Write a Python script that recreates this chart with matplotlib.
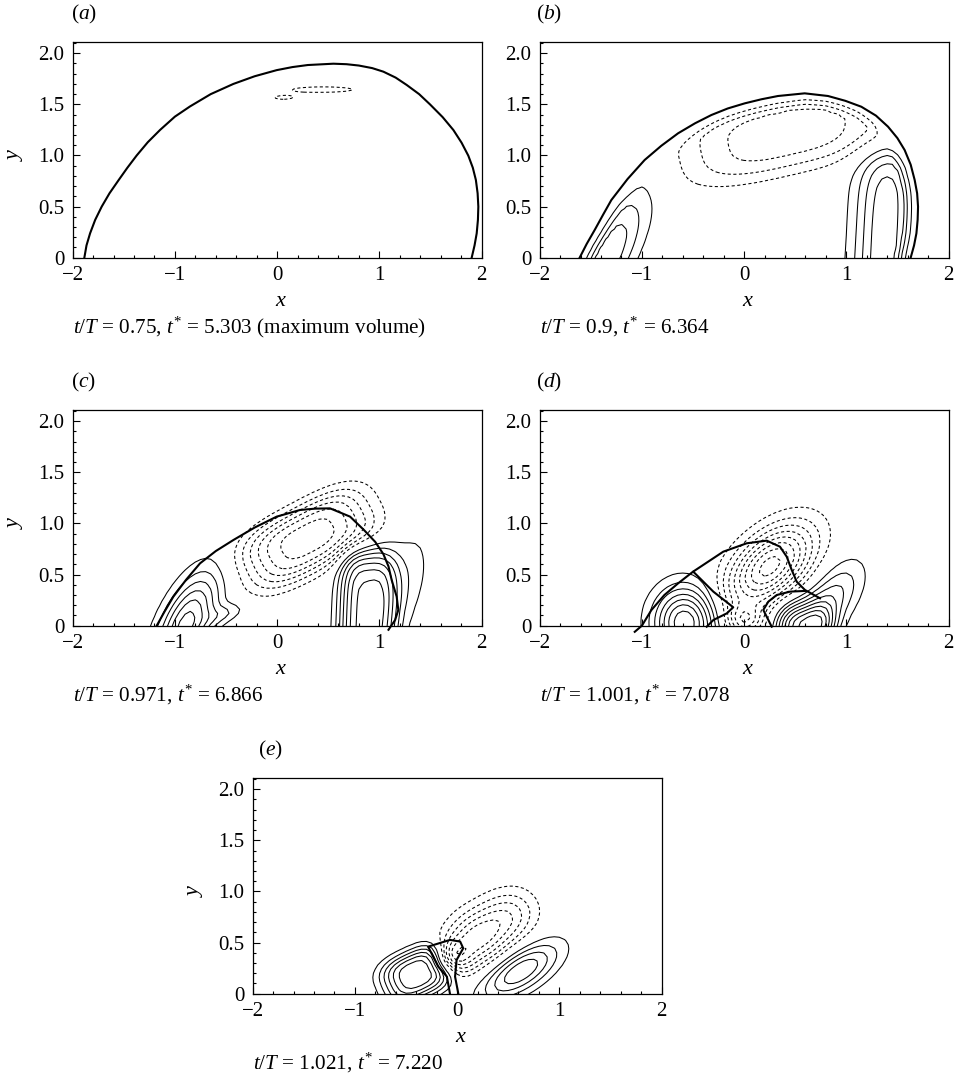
import numpy as np
import matplotlib
matplotlib.use("Agg")
import matplotlib.pyplot as plt
from matplotlib.path import Path
from matplotlib.ticker import MultipleLocator, FixedLocator, FixedFormatter

plt.rcParams['font.family'] = ['Liberation Serif', 'DejaVu Serif']
plt.rcParams['mathtext.fontset'] = 'custom'
plt.rcParams['mathtext.rm'] = 'Liberation Serif'
plt.rcParams['mathtext.it'] = 'Liberation Serif:italic'

# ---- data ----
panel_tags = ['a', 'b', 'c', 'd', 'e']
captions = [r'$t/T$ = 0.75, $t^{*}$ = 5.303 (maximum volume)',
            r'$t/T$ = 0.9, $t^{*}$ = 6.364',
            r'$t/T$ = 0.971, $t^{*}$ = 6.866',
            r'$t/T$ = 1.001, $t^{*}$ = 7.078',
            r'$t/T$ = 1.021, $t^{*}$ = 7.220']

# bubble surface (thick line), one or more polylines per panel
outline_a = [([-1.886, -1.865, -1.83, -1.78, -1.716, -1.64, -1.55, -1.465, -1.374, -1.265, -1.145,
               -1.0, -0.852, -0.65, -0.428, -0.22, -0.004, 0.15, 0.30, 0.551, 0.68, 0.80, 0.93,
               1.04, 1.16, 1.268, 1.39, 1.496, 1.62, 1.725, 1.805, 1.871, 1.915, 1.945, 1.962,
               1.969, 1.965, 1.953, 1.932, 1.904],
              [0.0, 0.12, 0.238, 0.37, 0.5, 0.63, 0.76, 0.88, 1.0, 1.13, 1.25,
               1.38, 1.48, 1.6, 1.70, 1.775, 1.835, 1.865, 1.885, 1.898, 1.893, 1.88, 1.855,
               1.82, 1.762, 1.69, 1.6, 1.5, 1.375, 1.249, 1.125, 0.998, 0.88, 0.76, 0.63,
               0.499, 0.37, 0.238, 0.12, 0.0])]
outline_b = [([-1.609, -1.54, -1.462, -1.38, -1.299, -1.14, -0.973, -0.81, -0.646, -0.48, -0.32,
               -0.16, 0.006, 0.17, 0.332, 0.593, 0.821, 0.99, 1.147, 1.29, 1.408, 1.50, 1.571,
               1.63, 1.669, 1.693, 1.702, 1.698, 1.686, 1.663, 1.63],
              [0.0, 0.135, 0.271, 0.42, 0.564, 0.77, 0.956, 1.095, 1.217, 1.315, 1.396,
               1.46, 1.51, 1.55, 1.582, 1.608, 1.582, 1.535, 1.477, 1.39, 1.282, 1.17, 1.053,
               0.91, 0.76, 0.63, 0.499, 0.37, 0.238, 0.12, 0.0])]
outline_c = [([-1.178, -1.10, -1.015, -0.89, -0.754, -0.6, -0.428, -0.22, -0.004, 0.224, 0.37,
               0.518, 0.714, 0.85, 0.96, 1.04, 1.09, 1.121, 1.17, 1.186, 1.155, 1.09],
              [0.0, 0.14, 0.284, 0.45, 0.61, 0.73, 0.838, 0.96, 1.067, 1.132, 1.145,
               1.148, 1.067, 0.936, 0.82, 0.70, 0.58, 0.447, 0.284, 0.154, 0.056, -0.04])]
outline_d = [([-1.07, -1.0, -0.907, -0.78, -0.646, -0.5, -0.204, 0.025, 0.221, 0.351, 0.417,
               0.466, 0.515, 0.596, 0.743],
              [-0.06, 0.0, 0.153, 0.3, 0.414, 0.528, 0.724, 0.806, 0.832, 0.773, 0.675,
               0.545, 0.43, 0.349, 0.268]),
             ([-0.497, -0.301, -0.106, -0.17, -0.3, -0.366],
              [0.528, 0.333, 0.18, 0.12, 0.056, -0.01]),
             ([0.27, 0.188, 0.237, 0.319, 0.449, 0.596],
              [-0.01, 0.154, 0.235, 0.30, 0.333, 0.34])]
outline_e = [([-0.07, -0.1, -0.184, -0.284, -0.07, 0.03, 0.06, -0.005, -0.02, 0.012],
              [0.0, 0.167, 0.264, 0.46, 0.526, 0.51, 0.444, 0.33, 0.167, 0.0])]

# vorticity patches: x0, y0, size along axis, size across, axis angle (deg), strength, shape exponents
blobs_a = [(0.45, 1.645, 0.66, 0.06, 0, -1.1, 2, 2),
           (0.05, 1.555, 0.17, 0.03, 0, -0.75, 2, 2)]
blobs_b = [(-1.35, 0.0, 0.5, 0.17, 62, 3.9, 2, 2),
           (1.36, 0.0, 0.95, 0.21, 87, 4.76, 6, 2),
           (0.42, 1.22, 0.82, 0.3, 13, -3.6, 3, 3)]
blobs_c = [(-0.9, 0.0, 0.38, 0.16, 65, 6.5, 2, 2),
           (-0.5, 0.12, 0.15, 0.06, 20, 1.6, 2, 2),
           (0.88, 0.0, 0.64, 0.22, 88, 7.4, 5, 3),
           (1.25, 0.4, 0.42, 0.16, 75, 1.6, 2, 2),
           (0.3, 0.85, 0.515, 0.245, 28, -6.5, 3, 3)]
blobs_d = [(-0.58, 0.03, 0.21, 0.24, 0, 8.0, 2, 2),
           (0.6, 0.0, 0.22, 0.16, 0, 7.0, 3, 2),
           (0.85, 0.25, 0.3, 0.15, 55, 3.5, 2, 2),
           (0.25, 0.58, 0.35, 0.2, 43, -8.5, 2, 2),
           (0.0, 0.05, 0.12, 0.1, 0, -4.0, 2, 2)]
blobs_e = [(-0.38, 0.2, 0.28, 0.18, 25, 7.0, 3, 3),
           (-0.05, 0.35, 0.12, 0.13, 45, -5.5, 2, 2),
           (0.15, 0.52, 0.18, 0.18, 45, -4.2, 2, 2),
           (0.38, 0.68, 0.2, 0.18, 45, -3.2, 2, 2),
           (0.58, 0.8, 0.18, 0.17, 45, -1.8, 2, 2),
           (0.62, 0.22, 0.3, 0.13, 32, 5.0, 2, 2)]

# panels whose vorticity stays inside the bubble: fade-out width at the surface
taper_width = [None, 0.15, None, None, None]

pos_levels = [1, 2, 3, 4, 5, 6, 7, 8, 9, 10]
neg_levels = [-10, -9, -8, -7, -6, -5, -4, -3, -2, -1]

x_ticks = [-2, -1, 0, 1, 2]
x_ticklabels = ['\u22122', '\u22121', '0', '1', '2']
y_ticks = [0, 0.5, 1.0, 1.5, 2.0]
y_ticklabels = ['0', '0.5', '1.0', '1.5', '2.0']

outlines = [outline_a, outline_b, outline_c, outline_d, outline_e]
blobs = [blobs_a, blobs_b, blobs_c, blobs_d, blobs_e]


def field(X, Y, patches):
    Z = np.zeros_like(X)
    for x0, y0, su, sv, ang, amp, pu, pv in patches:
        t = np.deg2rad(ang)
        u = (X - x0) * np.cos(t) + (Y - y0) * np.sin(t)
        v = -(X - x0) * np.sin(t) + (Y - y0) * np.cos(t)
        Z += amp * np.exp(-0.5 * (np.abs(u / su) ** pu + np.abs(v / sv) ** pv))
    return Z


def surface_taper(X, Y, ox, oy, w):
    # 0 outside the bubble, rising to 1 at distance w inside the surface
    px, py = np.asarray(ox), np.asarray(oy)
    Ya = np.abs(Y)
    d = np.full(X.shape, np.inf)
    for j in range(len(px) - 1):
        dx, dy = px[j + 1] - px[j], py[j + 1] - py[j]
        t = np.clip(((X - px[j]) * dx + (Ya - py[j]) * dy) / (dx * dx + dy * dy), 0, 1)
        d = np.minimum(d, np.hypot(X - px[j] - t * dx, Ya - py[j] - t * dy))
    poly = Path(np.column_stack([np.r_[px, px[0]], np.r_[py, py[0]]]))
    inside = poly.contains_points(np.column_stack([X.ravel(), Ya.ravel()])).reshape(X.shape)
    return np.where(inside, np.clip(d / w, 0, 1), 0.0)


# ---- layout (pixel positions of the axes in the 957 x 1076 figure) ----
W, H = 957, 1076
fig = plt.figure(figsize=(W / 100, H / 100), dpi=100)
ax_w, ax_h = 408.8, 216.2
corners = [(72.7, 257.7), (539.7, 257.7), (72.7, 625.7), (539.7, 625.7), (252.7, 993.7)]
tag_dx = [-0.004, -0.009, -0.004, -0.009, 0.013]

# fine grid for the thin sheet in (a), coarser simulation-like grid elsewhere
grid_steps = [(0.02, 0.01), (0.05, 0.04), (0.05, 0.04), (0.05, 0.04), (0.05, 0.04)]

for i, (left, bottom) in enumerate(corners):
    ax = fig.add_axes([left / W, 1 - bottom / H, ax_w / W, ax_h / H])
    sx, sy = grid_steps[i]
    X, Y = np.meshgrid(np.arange(-2, 2 + sx / 2, sx), np.arange(-0.12, 2.2, sy))
    Z = field(X, Y, blobs[i])
    if taper_width[i]:
        ox, oy = outlines[i][0]
        Z = Z * surface_taper(X, Y, ox, oy, taper_width[i])
    ax.contour(X, Y, Z, levels=pos_levels, colors='k', linewidths=0.75, linestyles='solid')
    cn = ax.contour(X, Y, Z, levels=neg_levels, colors='k', linewidths=0.75, linestyles='dashed')
    cn.set_linestyle((0, (3.0, 2.4)))
    for ox, oy in outlines[i]:
        ax.plot(ox, oy, color='k', lw=1.5, clip_on=False, solid_joinstyle='round')

    ax.set_xlim(-2, 2)
    ax.set_ylim(0, 2.115)
    ax.set_aspect('equal')
    ax.xaxis.set_major_locator(FixedLocator(x_ticks))
    ax.xaxis.set_major_formatter(FixedFormatter(x_ticklabels))
    ax.yaxis.set_major_locator(FixedLocator(y_ticks))
    ax.yaxis.set_major_formatter(FixedFormatter(y_ticklabels))
    ax.xaxis.set_minor_locator(MultipleLocator(0.2))
    ax.yaxis.set_minor_locator(MultipleLocator(0.1))
    ax.tick_params(which='both', direction='in', top=False, right=False,
                   labelsize=15, width=0.8, pad=6)
    ax.tick_params(which='major', length=5)
    ax.tick_params(which='minor', length=2.5)
    for sp in ax.spines.values():
        sp.set_linewidth(0.9)

    ax.text(0.51, -0.2035, '$x$', transform=ax.transAxes, fontsize=16,
            ha='center', va='center')
    if i in (0, 2, 4):
        ax.text(-0.141, 0.48, '$y$', transform=ax.transAxes, fontsize=16,
                rotation=90, ha='center', va='center')

    ax.text(tag_dx[i], 1.103, r'($\mathit{' + panel_tags[i] + '}$)', transform=ax.transAxes,
            fontsize=15.5, ha='left', va='baseline')
    ax.text(0.0, -0.35, captions[i], transform=ax.transAxes,
            fontsize=15.2, ha='left', va='baseline')

fig.savefig('out.png', dpi=100)
